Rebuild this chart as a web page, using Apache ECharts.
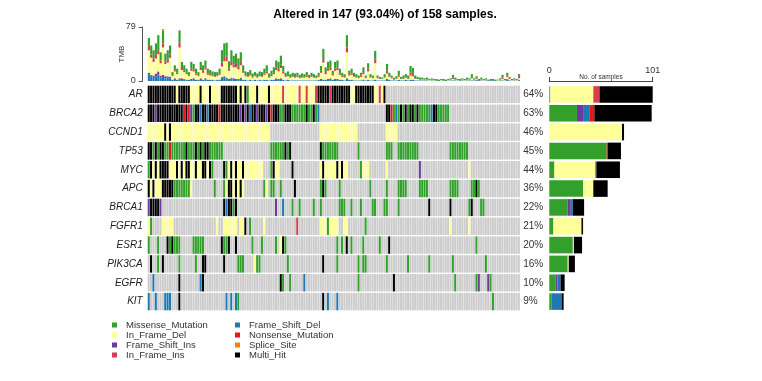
<!DOCTYPE html>
<html><head><meta charset="utf-8">
<script src="https://cdn.jsdelivr.net/npm/echarts@6/dist/echarts.min.js"></script>
<style>html,body{margin:0;padding:0;background:#fff}#c{width:762px;height:381px}</style>
</head><body><div id="c"></div>
<script>
// ---------------- DATA ----------------
const genes = ['AR','BRCA2','CCND1','TP53','MYC','APC','BRCA1','FGFR1','ESR1','PIK3CA','EGFR','KIT'];
const pctLabels = ['64%','63%','46%','45%','44%','36%','22%','21%','20%','16%','10%','9%'];
const nSamples = 158;
const titleText = 'Altered in 147 (93.04%) of 158 samples.';

// per-gene mutated samples: "start[-end]TYPE" (sample index, sorted oncoplot order)
// G Missense, Y In_Frame_Del, P Frame_Shift_Ins, D Frame_Shift_Del, I In_Frame_Ins, N Nonsense, S Splice_Site, K Multi_Hit
const mutAR    = "0-11K 12Y 13-17K 18-21Y 22K 23-25Y 26K 27-30Y 31-37K 38Y 39K 40Y 41K 42G 43-45Y 46K 47-50Y 51K 52-56Y 57I 58-63Y 64I 65-66Y 67I 68-70Y 71I 72-76K 77I 78-85K 86-87Y 88-95K 96-97Y 98I 99Y 100K";
const mutBRCA2 = "0-2K 3P 4-14K 15N 16K 17N 18P 19G 20-21K 22D 23-24K 25D 26-29K 30N 31-38K 39P 40K 41P 42K 43D 44-45K 46P 47-49K 50P 51K 52N 53-55K 56-57G 58-60K 61-66G 67K 68-69G 70K 71G 72D 101-102K 103N 104G 105D 106G 107K 108G 109K 110G 111-112K 113G 114K 115-119G 120D 121-122K 123-127G";
const mutCCND1 = "0-6Y 7K 8Y 9K 10-51Y 73-88Y 101-105Y";
const mutTP53  = "0-1K 2G 3K 4G 5-6K 7-8G 9N 10-15G 16K 17-19G 20K 21G 22K 23G 24-25K 26-31G 52-57G 58K 59G 60K 73K 74-80G 89G 101-103G 106-114G 128-135G";
const mutMYC   = "0G 1K 2Y 3K 4Y 5-8K 9-11Y 12K 13Y 14K 15Y 16-17K 18-19Y 20K 21-22Y 23-24K 25Y 26K 27G 32K 33G 34Y 35K 36Y 37K 38-39Y 40K 41-48Y 52G 53K 54-55Y 61K 73Y 74K 75-79Y 80K 81Y 82K 83-84Y 90G 91-93Y 101Y 115P 136Y";
const mutAPC   = "0K 1Y 2K 3-5Y 6-10K 11-17G 18Y 28G 32G 33Y 34-35K 36Y 37K 38Y 39K 40Y 49G 50Y 52-53G 56G 62K 73G 74K 75G 81G 94G 101G 106-109G 115-118G 128-131G 137-138G 139K 140G";
const mutBRCA1 = "0P 1-4K 5P 32K 33D 34-35K 36G 37K 54P 57D 61G 64G 70G 73G 81-83G 86G 90G 95-96G 100-101G 106G 119K 128K 136G 137K 141-142G";
const mutFGFR1 = "0Y 1G 6-10Y 29Y 32-37Y 39-40Y 41K 43G 49Y 63I 73-75Y 76G 77-80Y 83-84Y 92G 128Y 136Y";
const mutESR1  = "0G 4G 8K 9G 10K 11-13G 19-23G 31K 32-33G 34K 37K 44G 48G 54G 56Y 57K 58G 80G 82G 84K 86G 91G 98G 102K 139G";
const mutPIK3CA= "1K 4G 6K 13G 20G 23-24K 32K 38-40G 45Y 46-47G 59G 74K 80G 89G 91-92G 101G 110G 119G 129G 143G";
const mutEGFR  = "2D 13K 22D 23K 56K 57G 60G 66D 89G 104K 130G 139G 140P 144P 145G";
const mutKIT   = "0D 3D 7-9D 13K 33D 35D 37D 38G 74K 76D 80D 146G";

// TMB per sample, by variant class
const tmbFrameShiftDel = [10,8,6,7,8,5,6,4,5,4, 2,3,2,3,3,2,2,2,3,3, 2,2,3,2,3,2,2,2,1,2, 2,5,6,4,3,4,3,3,3,4, 2,2,1,2,1,2,1,2,1,2, 2,1,2,2,3,3,3,2,1,2, 1,1,1,1,1,1,1,1,1,1, 1,1,2,3,2,2,3,3,2,3, 3,2,2,1,3,2,2,1,1,1, 1,2,1,2,1,1,2,1,1,1, 1,3,2,1,1,1,2,1,1,2, 1,2,2,1,1,1,1,1,1,0, 1,0,1,0,0,1,0,0,1,1, 1,0,1,1,0,1,1,1,1,1, 0,1,0,1,0,1,1,0,0,1, 1,0,2,1,0,1,0,1];
const tmbFrameShiftIns = [2,1,2,4,6,3,3,3,2,2, 0,1,0,1,1,1,0,0,0,1, 0,0,1,0,1,0,0,0,0,0, 0,1,1,1,0,1,1,0,0,1, 0,0,0,0,0,0,0,0,0,0, 0,0,0,0,1,0,1,0,0,0, 0,0,0,0,0,0,0,0,0,0, 0,0,0,0,0,0,0,1,0,0, 0,0,0,0,1,0,0,0,0,0, 0,0,0,0,0,0,0,0,0,0, 0,0,0,0,0,0,0,0,0,0, 0,0,0,0,0,0,0,0,0,0, 0,0,0,0,0,0,0,0,0,0, 0,0,0,0,0,0,0,0,0,1, 1,0,0,0,1,0,0,0,0,0, 0,0,1,0,0,0,0,1];
const tmbInFrameDel = [33,25,20,22,25,18,40,18,20,28, 5,10,8,45,12,10,8,5,12,10, 7,5,12,10,13,7,6,5,5,5, 7,15,22,24,12,18,16,17,14,18, 10,5,5,6,4,5,4,5,5,7, 9,4,5,8,12,11,15,9,5,5, 4,5,4,5,3,4,4,5,3,5, 4,3,4,9,25,8,12,12,6,12, 13,7,4,4,38,6,7,5,4,3, 5,8,3,12,4,3,24,3,2,2, 4,8,4,3,1,2,4,2,2,3, 2,6,5,2,2,1,1,1,1,1, 1,1,0,0,1,0,0,1,1,2, 1,1,0,1,1,1,1,3,1,1, 0,1,1,1,0,0,0,0,1,1, 2,1,3,2,1,1,1,2];
const tmbInFrameIns = [6,5,5,6,6,4,6,4,5,5, 1,2,2,7,3,2,2,1,3,3, 2,1,3,3,3,2,2,1,1,1, 2,6,6,7,3,5,4,5,4,5, 3,1,1,2,1,1,1,2,1,2, 3,1,2,2,4,4,5,3,1,2, 1,1,1,2,1,1,1,2,1,1, 1,1,2,3,5,3,3,4,2,3, 4,2,2,1,7,2,2,1,1,1, 2,3,1,4,1,1,5,1,1,0, 1,4,1,1,1,1,2,0,1,1, 1,4,3,1,0,0,1,0,0,0, 0,0,0,0,0,0,0,0,0,2, 1,0,0,0,0,1,0,2,0,1, 0,1,0,0,0,0,0,0,0,0, 2,0,2,1,0,0,0,3];
const tmbMissense = [12,13,12,16,22,12,19,11,13,13, 5,7,6,18,9,8,6,5,10,8, 7,5,9,8,10,7,6,6,6,5, 7,18,20,20,11,17,13,15,12,14, 8,6,6,6,5,5,5,5,6,7, 9,5,6,8,10,10,13,8,5,5, 4,5,5,4,4,5,4,5,4,5, 4,3,4,7,15,7,10,10,5,10, 10,7,4,4,18,5,7,5,4,3, 4,7,3,8,4,3,13,3,2,2, 4,10,5,3,2,3,7,3,4,4, 4,10,9,4,3,3,2,2,3,2, 2,2,2,2,2,2,2,2,2,4, 2,2,2,2,2,2,2,4,2,3, 2,2,2,2,1,2,2,2,1,2, 4,2,4,2,2,2,2,3];
const tmbSplice = [0,0,0,0,0,0,2,0,0,0, 0,0,0,0,0,0,0,0,0,0, 0,0,0,0,0,0,0,0,0,0, 0,0,0,0,0,0,0,0,0,0, 0,0,0,0,0,0,0,0,0,0, 0,0,0,0,0,0,0,0,0,0, 0,0,0,0,0,0,0,0,0,0, 0,0,0,0,0,0,0,0,0,0, 0,0,0,0,0,0,0,0,0,0, 0,0,0,0,0,0,0,0,0,0, 0,0,0,0,0,0,0,0,0,0, 0,0,0,0,0,0,0,0,0,0, 0,0,0,0,0,0,0,0,0,0, 0,0,0,0,0,0,0,0,0,0, 0,0,0,0,0,0,0,0,0,0, 0,0,0,0,0,0,0,0];
const tmbMax = 79;
const countMax = 101;

// ---------------- STYLE ----------------
const typeCodes  = ['G','Y','P','D','I','N','S','K'];
const typeNames  = ['Missense_Mutation','In_Frame_Del','Frame_Shift_Ins','Frame_Shift_Del','In_Frame_Ins','Nonsense_Mutation','Splice_Site','Multi_Hit'];
const typeColors = ['#33A02C','#FFFF99','#6A3D9A','#1F78B4','#D53E4F','#E31A1C','#FF7F00','#000000'];
const colorOf = {}; typeCodes.forEach((c,i)=>colorOf[c]=typeColors[i]); colorOf['.']='#CCCCCC';
const FONT = 'Liberation Sans, Arial, Helvetica, sans-serif';

// ---------------- BUILD ----------------
function parseRow(spec){
  const arr = new Array(nSamples).fill('.');
  spec.trim().split(/\s+/).forEach(tok=>{
    const m = tok.match(/^(\d+)(?:-(\d+))?([A-Z])$/);
    const a = +m[1], b = m[2] !== undefined ? +m[2] : a;
    for (let i=a;i<=b;i++) arr[i]=m[3];
  });
  return arr;
}
const rows = [mutAR,mutBRCA2,mutCCND1,mutTP53,mutMYC,mutAPC,mutBRCA1,mutFGFR1,mutESR1,mutPIK3CA,mutEGFR,mutKIT].map(parseRow);
const samples = Array.from({length:nSamples},(_,i)=>'S'+(i+1));
const cells = [];
const cellTypes = [];
rows.forEach((r,g)=>r.forEach((t,c)=>{cells.push([c,g]); cellTypes.push(t);}));
const counts = typeCodes.map(code => rows.map(r => r.filter(t=>t===code).length));

const tmbSeries = [
  ['Frame_Shift_Del', tmbFrameShiftDel, '#1F78B4'],
  ['Frame_Shift_Ins', tmbFrameShiftIns, '#6A3D9A'],
  ['In_Frame_Del', tmbInFrameDel, '#FFFF99'],
  ['In_Frame_Ins', tmbInFrameIns, '#D53E4F'],
  ['Missense_Mutation', tmbMissense, '#33A02C'],
  ['Splice_Site', tmbSplice, '#FF7F00']
].map(([name,data,color])=>({
  name, type:'bar', stack:'tmb', xAxisIndex:0, yAxisIndex:0, data,
  itemStyle:{color}, barCategoryGap:'8%', silent:true
}));

const countSeries = typeCodes.map((code,i)=>({
  name:typeNames[i], type:'bar', stack:'cnt', xAxisIndex:2, yAxisIndex:3,
  data:counts[i], itemStyle:{color:typeColors[i]}, barCategoryGap:'12%', silent:true
}));

const matrixSeries = {
  type:'custom', xAxisIndex:1, yAxisIndex:1, data:cells, silent:true,
  encode:{x:0,y:1},
  renderItem:function(params, api){
    const c = api.value(0), g = api.value(1);
    const t = cellTypes[params.dataIndex];
    const p = api.coord([c,g]);
    const s = api.size([1,1]);
    return {type:'rect',
      shape:{x:p[0]-s[0]/2, y:p[1]-s[1]/2+0.7, width:s[0]-0.3, height:s[1]-1.4},
      style:{fill:colorOf[t]}};
  }
};

const L = 147.7, W = 372.5;
const option = {
  animation:false,
  textStyle:{fontFamily:FONT},
  title:{text:titleText, left:380, textAlign:'center', top:4,
    textStyle:{fontSize:12, fontWeight:'bold', color:'#000', fontFamily:FONT}},
  legend:[
    {data:typeNames.filter((n,i)=>[0,1,2,4].includes(i)), orient:'vertical', left:112, top:320, padding:0,
     itemWidth:5, itemHeight:5, itemGap:0, icon:'rect', selectedMode:false,
     textStyle:{fontSize:9.5, lineHeight:10, color:'#333', padding:[0,0,0,4], fontFamily:FONT}},
    {data:typeNames.filter((n,i)=>[3,5,6,7].includes(i)), orient:'vertical', left:235, top:320, padding:0,
     itemWidth:5, itemHeight:5, itemGap:0, icon:'rect', selectedMode:false,
     textStyle:{fontSize:9.5, lineHeight:10, color:'#333', padding:[0,0,0,4], fontFamily:FONT}}
  ],
  grid:[
    {left:L, width:W, top:27, height:54},
    {left:L, width:W, top:85, height:226},
    {left:549.3, width:103.4, top:85, height:226}
  ],
  xAxis:[
    {gridIndex:0, type:'category', data:samples, show:false},
    {gridIndex:1, type:'category', data:samples, show:false},
    {gridIndex:2, type:'value', position:'top', min:0, max:countMax, interval:countMax, offset:4,
     splitLine:{show:false}, axisLine:{show:true, lineStyle:{color:'#444', width:1}},
     axisTick:{show:true, length:4, lineStyle:{color:'#444'}},
     axisLabel:{fontSize:9, color:'#333', margin:6},
     name:'No. of samples', nameLocation:'middle', nameGap:0, nameMoveOverlap:false,
     nameTextStyle:{fontSize:6.5, color:'#333', verticalAlign:'bottom'}}
  ],
  yAxis:[
    {gridIndex:0, type:'value', min:0, max:tmbMax, interval:tmbMax, offset:5,
     splitLine:{show:false}, axisLine:{show:true, lineStyle:{color:'#555', width:1}},
     axisTick:{show:true, length:4, lineStyle:{color:'#555'}},
     axisLabel:{fontSize:9, color:'#333', margin:7},
     name:'TMB', nameLocation:'middle', nameGap:17, nameRotate:90, nameMoveOverlap:false,
     nameTextStyle:{fontSize:8, color:'#333'}},
    {gridIndex:1, type:'category', data:genes, inverse:true, position:'left',
     axisLine:{show:false}, axisTick:{show:false},
     axisLabel:{fontSize:10, fontStyle:'italic', color:'#222', margin:5}},
    {gridIndex:1, type:'category', data:pctLabels, inverse:true, position:'right',
     axisLine:{show:false}, axisTick:{show:false},
     axisLabel:{fontSize:10, color:'#333', margin:3}},
    {gridIndex:2, type:'category', data:genes, inverse:true, show:false}
  ],
  series:[matrixSeries, ...tmbSeries, ...countSeries]
};
echarts.init(document.getElementById('c'), null, {renderer:'canvas'}).setOption(option);
</script>
</body></html>
